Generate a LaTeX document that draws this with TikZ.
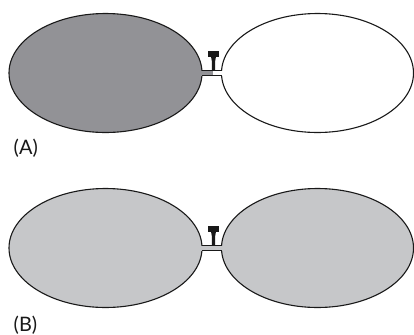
\documentclass[tikz,border=0pt]{standalone}
\usepackage{fontspec}
\setmainfont{Lato}
\definecolor{darkgas}{RGB}{146,146,150}
\definecolor{midgas}{RGB}{198,199,201}
\definecolor{ink}{gray}{0.1}
\tikzset{
  x=1bp,y=-1bp,
  bulb/.style={draw=ink,line width=1.1bp},
  tubeline/.style={draw=ink,line width=1.1bp},
  valve/.style={fill=ink,draw=none},
  lab/.style={font=\fontsize{20}{22}\selectfont,text=ink,inner sep=0pt}
}
\newcommand{\flask}[3]{% yc, left fill, right fill
  \begin{scope}[yshift=#1*-1bp]
    \path[bulb,fill=#2] (105.5,0) ellipse [x radius=96.5,y radius=59.5];
    \path[bulb,fill=#3] (317.5,0) ellipse [x radius=96,y radius=59.5];
    \fill[#2] (198,-2.5) rectangle (212.5,2.5);
    \fill[#3] (212.5,-2.5) rectangle (225,2.5);
    \draw[tubeline] (202,-2.8) -- (222.3,-2.8);
    \draw[tubeline] (202,2.8) -- (222.3,2.8);
    \fill[valve] (211.8,-2.8) -- (215.2,-2.8) -- (215.2,-12) -- (216,-16.5) -- (211,-16.5) -- (211.8,-12) -- cycle;
    \fill[valve] (207.7,-22.5) rectangle (218.7,-16.5);
  \end{scope}}
\begin{document}
\begin{tikzpicture}
\useasboundingbox (0,0) rectangle (414,335);
\fill[white] (0,0) rectangle (414,335);
\flask{73}{darkgas}{white}
\flask{248}{midgas}{midgas}
\node[lab,anchor=west] (labA) at (13.5,148) {(A)};
\node[lab,anchor=west] (labB) at (13.5,325) {(B)};
\end{tikzpicture}
\end{document}
